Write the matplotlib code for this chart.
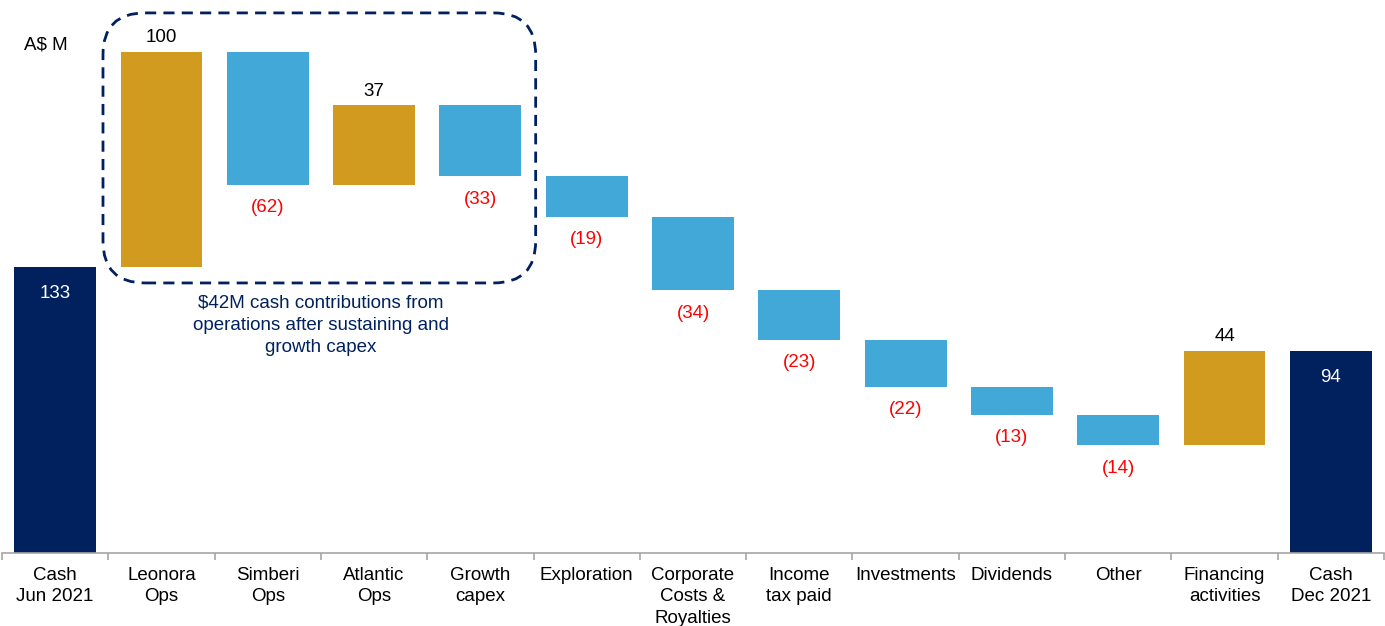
import matplotlib
matplotlib.use("Agg")
import matplotlib.pyplot as plt
from matplotlib.patches import FancyBboxPatch
import numpy as np

plt.rcParams['font.family'] = ['Liberation Sans', 'DejaVu Sans']

categories = ["Cash\nJun 2021", "Leonora\nOps", "Simberi\nOps", "Atlantic\nOps", "Growth\ncapex",
              "Exploration", "Corporate\nCosts &\nRoyalties", "Income\ntax paid", "Investments",
              "Dividends", "Other", "Financing\nactivities", "Cash\nDec 2021"]
values = [133, 100, -62, 37, -33, -19, -34, -23, -22, -13, -14, 44, 94]
kinds = ["total", "pos", "neg", "pos", "neg", "neg", "neg", "neg", "neg", "neg", "neg", "pos", "total"]

NAVY = "#00215E"
GOLD = "#D19B1F"
BLUE = "#41A8D8"
RED = "#FF0000"
FS = 13.5

fig = plt.figure(figsize=(13.85, 6.26), dpi=100)
ax = fig.add_axes([2/1385, (626-553)/626, 1382/1385, 553/626])
ax.set_xlim(-0.5, len(categories) - 0.5)
ax.set_ylim(0, 257)

x = np.arange(len(categories))
running = 0
w = 0.77
for i, (v, k) in enumerate(zip(values, kinds)):
    if k == "total":
        running = v
        ax.bar(i, v, bottom=0, width=w, color=NAVY)
        ax.text(i, v - 12.5, f"{v}", ha="center", va="center", color="white", fontsize=FS)
    else:
        start = running
        end = running + v
        bottom = min(start, end)
        color = GOLD if v > 0 else BLUE
        ax.bar(i, abs(v), bottom=bottom, width=w, color=color)
        if v > 0:
            ax.text(i, end + 6.5, f"{v}", ha="center", va="center", color="black", fontsize=FS)
        else:
            ax.text(i, end - 10.5, f"({abs(v)})", ha="center", va="center", color=RED, fontsize=FS)
        running = end

for s in ["top", "right", "left"]:
    ax.spines[s].set_visible(False)
ax.spines["bottom"].set_color("#A6A6A6")
ax.spines["bottom"].set_linewidth(1.2)
ax.set_yticks([])
ax.set_xticks(x)
ax.set_xticklabels(categories, fontsize=FS, linespacing=1.35)
ax.tick_params(axis="x", which="major", length=0, pad=10)
ax.set_xticks(np.arange(-0.5, len(categories)), minor=True)
ax.tick_params(axis="x", which="minor", length=5, color="#A6A6A6", direction="out", width=1.2)

ax.text(0.016, 0.918, "A$ M", transform=ax.transAxes, fontsize=FS, ha="left", va="center")

# dashed rounded box around operations
x0d, x1d = 0.45, 4.52
y0d, y1d = 125.5, 251
(px0, py0) = ax.transData.transform((x0d, y0d))
(px1, py1) = ax.transData.transform((x1d, y1d))
box = FancyBboxPatch((px0, py0), px1 - px0, py1 - py0,
                     boxstyle="round,pad=0,rounding_size=42",
                     transform=None, fill=False, edgecolor=NAVY,
                     linewidth=2.0, linestyle=(0, (4.0, 2.6)))
fig.patches.append(box)

ax.text(2.5, 120.2, "$42M cash contributions from\noperations after sustaining and\ngrowth capex",
        ha="center", va="top", color=NAVY, fontsize=FS, linespacing=1.42)

fig.savefig("out.png", dpi=100)
